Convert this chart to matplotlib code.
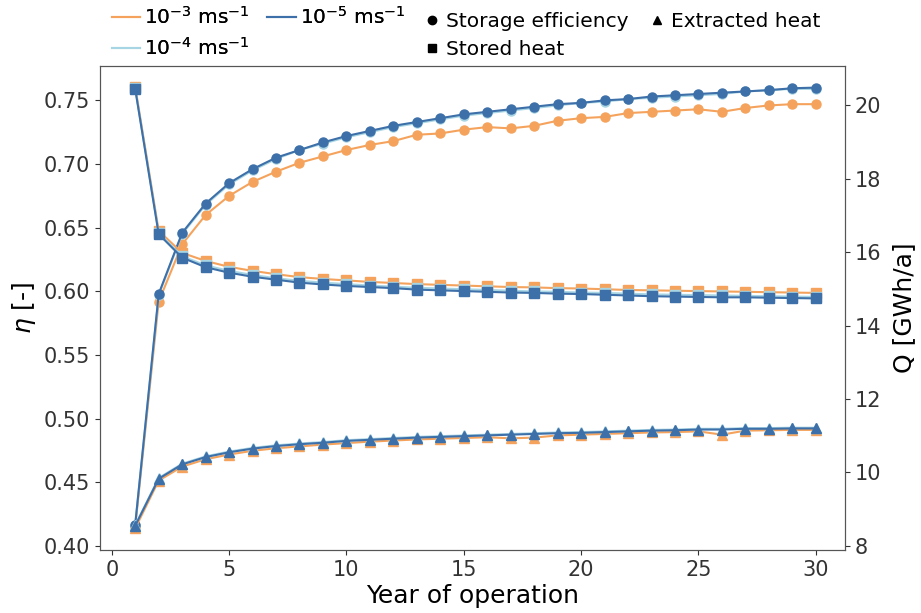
import matplotlib
matplotlib.use("Agg")
import matplotlib.pyplot as plt
from matplotlib.lines import Line2D

# data
years = list(range(1, 31))

# storage efficiency [-]
eta_k3 = [0.415, 0.592, 0.637, 0.660, 0.675, 0.686, 0.694, 0.701, 0.706, 0.711,
          0.715, 0.718, 0.723, 0.724, 0.727, 0.729, 0.728, 0.730, 0.734, 0.736,
          0.737, 0.740, 0.741, 0.742, 0.743, 0.741, 0.744, 0.746, 0.747, 0.747]
eta_k4 = [0.417, 0.597, 0.645, 0.668, 0.684, 0.695, 0.704, 0.711, 0.716, 0.721,
          0.725, 0.729, 0.732, 0.735, 0.738, 0.740, 0.742, 0.744, 0.746, 0.748,
          0.749, 0.751, 0.752, 0.753, 0.754, 0.755, 0.757, 0.758, 0.759, 0.759]
eta_k5 = [0.417, 0.598, 0.646, 0.669, 0.685, 0.696, 0.705, 0.711, 0.717, 0.722,
          0.726, 0.730, 0.733, 0.736, 0.739, 0.741, 0.743, 0.745, 0.747, 0.748,
          0.750, 0.751, 0.753, 0.754, 0.755, 0.756, 0.757, 0.758, 0.7595, 0.760]

# stored heat [GWh/a]
stored_k3 = [20.50, 16.58, 15.98, 15.76, 15.60, 15.49, 15.40, 15.32, 15.27, 15.23,
             15.19, 15.16, 15.13, 15.11, 15.09, 15.07, 15.05, 15.04, 15.02, 15.01,
             14.99, 14.97, 14.96, 14.95, 14.94, 14.93, 14.92, 14.91, 14.90, 14.89]
stored_k4 = [20.46, 16.52, 15.89, 15.64, 15.49, 15.38, 15.29, 15.22, 15.17, 15.13,
             15.09, 15.06, 15.03, 15.01, 14.99, 14.97, 14.95, 14.93, 14.92, 14.90,
             14.89, 14.87, 14.85, 14.84, 14.83, 14.82, 14.81, 14.80, 14.79, 14.78]
stored_k5 = [20.44, 16.49, 15.85, 15.59, 15.44, 15.33, 15.25, 15.17, 15.12, 15.08,
             15.05, 15.02, 14.98, 14.96, 14.94, 14.92, 14.90, 14.89, 14.87, 14.86,
             14.84, 14.82, 14.80, 14.79, 14.78, 14.77, 14.77, 14.76, 14.75, 14.74]

# extracted heat [GWh/a]
extracted_k3 = [8.48, 9.78, 10.16, 10.36, 10.49, 10.59, 10.66, 10.71, 10.76, 10.80,
                10.84, 10.87, 10.90, 10.92, 10.94, 10.96, 10.93, 10.95, 11.01, 11.03,
                11.05, 11.07, 11.09, 11.10, 11.12, 11.03, 11.14, 11.15, 11.16, 11.16]
extracted_k4 = [8.57, 9.85, 10.24, 10.44, 10.57, 10.67, 10.74, 10.79, 10.83, 10.88,
                10.91, 10.94, 10.97, 10.99, 11.01, 11.03, 11.05, 11.07, 11.09, 11.10,
                11.12, 11.14, 11.16, 11.17, 11.19, 11.19, 11.21, 11.21, 11.22, 11.22]
extracted_k5 = [8.55, 9.83, 10.22, 10.42, 10.55, 10.65, 10.72, 10.77, 10.81, 10.86,
                10.89, 10.92, 10.95, 10.97, 10.99, 11.01, 11.03, 11.05, 11.07, 11.08,
                11.10, 11.12, 11.14, 11.15, 11.17, 11.17, 11.19, 11.19, 11.20, 11.20]

labels = [r'$10^{-3}$ ms$^{-1}$', r'$10^{-4}$ ms$^{-1}$', r'$10^{-5}$ ms$^{-1}$']
colors = ['#F5A35C', '#A8D5E4', '#3D6FA8']

fig = plt.figure(figsize=(9.21, 6.13), dpi=100)
ax = fig.add_axes([0.1086, 0.1028, 0.809, 0.7896])
ax2 = ax.twinx()

ms = 6.5
lw = 1.5
for eta, c in zip([eta_k3, eta_k4, eta_k5], colors):
    ax.plot(years, eta, color=c, marker='o', ms=ms, lw=lw)
for st, ex, c in zip([stored_k3, stored_k4, stored_k5],
                     [extracted_k3, extracted_k4, extracted_k5], colors):
    ax2.plot(years, st, color=c, marker='s', ms=ms, lw=lw)
    ax2.plot(years, ex, color=c, marker='^', ms=ms + 0.5, lw=lw)

ax.set_xlim(-0.5, 31.25)
ax.set_ylim(0.397, 0.777)
ax2.set_ylim(7.89, 21.07)
ax.set_yticks([0.40, 0.45, 0.50, 0.55, 0.60, 0.65, 0.70, 0.75])
ax2.set_yticks([8, 10, 12, 14, 16, 18, 20])

ax.set_xlabel('Year of operation', fontsize=18, labelpad=3)
ax.set_ylabel(r'$\eta$ [-]', fontsize=18, labelpad=4)
ax2.set_ylabel('Q [GWh/a]', fontsize=18, labelpad=8)
ax.tick_params(labelsize=15, colors='#333333', labelcolor='#333333')
ax2.tick_params(labelsize=15, colors='#333333', labelcolor='#333333')
for a in (ax, ax2):
    for s in a.spines.values():
        s.set_color('#555555')

# legends above the axes
color_handles = [Line2D([], [], color=c, lw=lw) for c in colors]
leg1 = ax.legend(color_handles, labels, ncol=2, loc='lower left',
                 bbox_to_anchor=(0.005, 0.998), frameon=False, fontsize=14.5,
                 handlelength=1.4, handletextpad=0.2, columnspacing=0.9,
                 labelspacing=0.45, borderaxespad=0.0)
ax.add_artist(leg1)

marker_handles = [Line2D([], [], color='black', marker=m, ls='none', ms=6)
                  for m in ['o', 's', '^']]
ax2.legend(marker_handles, ['Storage efficiency', 'Stored heat', 'Extracted heat'],
           ncol=2, loc='lower left', bbox_to_anchor=(0.424, 0.998), frameon=False,
           fontsize=14.5, handlelength=0.8, handletextpad=0.3, columnspacing=1.0,
           labelspacing=0.45, borderaxespad=0.0)

fig.savefig('out.png', dpi=100)
